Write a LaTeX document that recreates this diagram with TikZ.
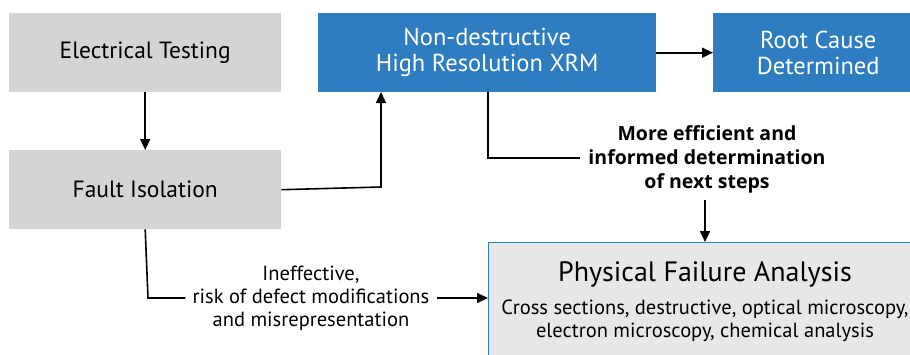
\documentclass[tikz,border=0pt]{standalone}
\usepackage{fontspec}
\setmainfont{PT Sans}
\newfontfamily\boldlbl{Open Sans}
\usetikzlibrary{arrows.meta}
\definecolor{zblue}{RGB}{46,125,192}
\definecolor{zgray}{RGB}{211,212,214}
\definecolor{zlight}{RGB}{230,231,233}
\begin{document}
\begin{tikzpicture}[x=1pt,y=-1pt,
  graybox/.style={fill=zgray,draw=none,minimum width=272pt,minimum height=79pt,anchor=north west,inner sep=0pt,font=\fontsize{23.5}{27}\selectfont,align=center},
  bluebox/.style={fill=zblue,draw=none,minimum height=79pt,anchor=north west,inner sep=0pt,text=white,font=\fontsize{24.5}{26}\selectfont,align=center},
  conn/.style={line width=1.6pt,-{Triangle[length=11pt,width=10pt]}},
  plain/.style={line width=1.6pt},
  lbl/.style={align=center,inner sep=2pt}]
\useasboundingbox (0,0) rectangle (910,354);
\begin{scope}
\clip (0,0) rectangle (910,354);
\node[graybox] (et) at (9,13) {Electrical Testing};
\node[graybox] (fi) at (9,150) {Fault Isolation};
\node[bluebox,minimum width=338pt] (xrm) at (318,13) {Non-destructive\\High Resolution XRM};
\node[bluebox,minimum width=210pt] (rc) at (713,13) {Root Cause\\Determined};
\node[fill=zlight,draw=zblue,line width=1pt,minimum width=440pt,minimum height=130pt,anchor=north west,inner sep=0pt] (pfa) at (488,242) {};
\end{scope}
\node[font=\fontsize{28}{32}\selectfont] (pfat) at (705,274) {Physical Failure Analysis};
\node[font=\fontsize{20.5}{23}\selectfont,align=center] (pfas) at (705,321) {Cross sections, destructive, optical microscopy,\\electron microscopy, chemical analysis};
\node[lbl,font=\boldlbl\bfseries\fontsize{19.5}{24}\selectfont,inner xsep=8pt] (eff) at (707,159) {More efficient and\\informed determination\\of next steps};
\node[lbl,font=\fontsize{20.5}{23}\selectfont,inner xsep=7pt] (ineff) at (311,298) {Ineffective,\\risk of defect modifications\\and misrepresentation};
\coordinate (c1) at (381,187);
\coordinate (c2) at (488,158);
\coordinate (c3) at (148,298);
\draw[conn] (et.south) -- (fi.north);
\draw[conn] (fi.east) -- (c1) -- (381,92);
\draw[conn] (xrm.east) -- (rc.west);
\draw[plain] (488,92) -- (c2) -- (eff.west |- c2);
\draw[conn] (705,200) -- (705,242);
\draw[plain] (fi.south) -- (c3) -- (ineff.west |- c3);
\draw[conn] (ineff.east |- c3) -- (488,298);
\end{tikzpicture}
\end{document}
